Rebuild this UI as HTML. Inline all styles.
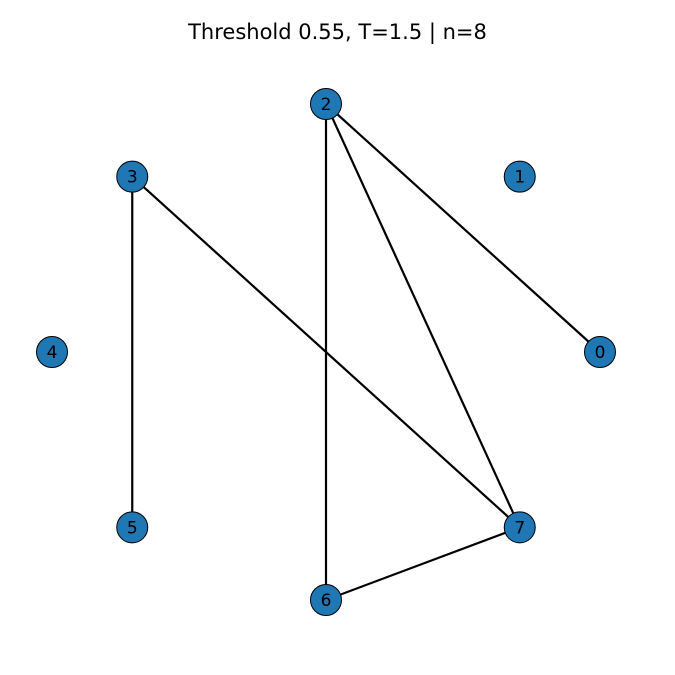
<!DOCTYPE html>
<html><head><meta charset="utf-8"><style>body{margin:0;background:#fff}svg{display:block}</style></head>
<body>
<svg id="chart" width="675" height="675" xmlns="http://www.w3.org/2000/svg">
<text x="337.5" y="39" text-anchor="middle" font-family="DejaVu Sans, sans-serif" font-size="21">Threshold 0.55, T=1.5 | n=8</text>
<g id="edges"></g>
<g id="nodes"></g>
</svg>
<script>
const nodeIds = [0,1,2,3,4,5,6,7];
const edgeSources = [2,2,2,3,3,6];
const edgeTargets = [0,6,7,5,7,7];
const cx = 326, cy = 352, rx = 274, ry = 248;
function pos(i){const a=2*Math.PI*i/nodeIds.length;return [cx+rx*Math.cos(a), cy-ry*Math.sin(a)];}
const NS='http://www.w3.org/2000/svg';
const eg=document.getElementById('edges'), ng=document.getElementById('nodes');
edgeSources.forEach((s,k)=>{
  const t=edgeTargets[k];const p=pos(nodeIds.indexOf(s)), q=pos(nodeIds.indexOf(t));
  const l=document.createElementNS(NS,'line');
  l.setAttribute('x1',p[0]);l.setAttribute('y1',p[1]);l.setAttribute('x2',q[0]);l.setAttribute('y2',q[1]);
  l.setAttribute('stroke','#000');l.setAttribute('stroke-width','2.2');
  
  
  eg.appendChild(l);
});
nodeIds.forEach((id,i)=>{
  const p=pos(i);
  const g=document.createElementNS(NS,'g');
  
  
  const c=document.createElementNS(NS,'circle');
  c.setAttribute('cx',p[0]);c.setAttribute('cy',p[1]);c.setAttribute('r','15.5');
  c.setAttribute('fill','#1f77b4');c.setAttribute('stroke','#000');c.setAttribute('stroke-width','1');
  const t=document.createElementNS(NS,'text');
  t.setAttribute('x',p[0]);t.setAttribute('y',p[1]+6);t.setAttribute('text-anchor','middle');
  t.setAttribute('font-family','DejaVu Sans, sans-serif');t.setAttribute('font-size','17');
  t.textContent=id;
  g.appendChild(c);g.appendChild(t);ng.appendChild(g);
});
</script>
</body></html>
